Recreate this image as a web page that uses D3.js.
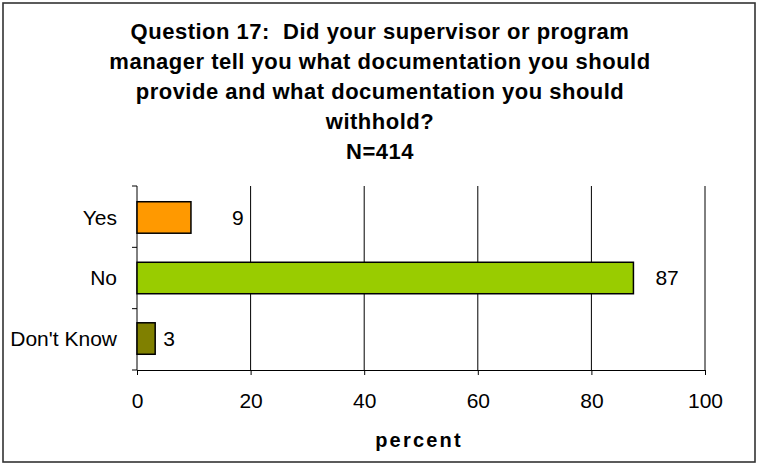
<!DOCTYPE html>
<html><head><meta charset="utf-8">
<script src="https://cdn.jsdelivr.net/npm/d3@7"></script>
<style>body{margin:0;background:#fff;}svg{display:block;}text{font-family:"Liberation Sans",Arial,sans-serif;white-space:pre;}</style>
</head><body>
<svg id="c" width="759" height="470"></svg>
<script>
const categories = ["Yes", "No", "Don't Know"];
const values = [9.5, 87.4, 3.2];
const valueLabels = ["9", "87", "3"];
const colors = ["#FF9900", "#99CC00", "#808000"];
const labelGap = [41, 22, 8];
const xTicks = [0, 20, 40, 60, 80, 100];
const titleLines = ["Question 17:  Did your supervisor or program", "manager tell you what documentation you should", "provide and what documentation you should", "withhold?", "N=414"];
const xTitle = "percent";

const svg = d3.select("#c");
svg.append("rect").attr("x", 3).attr("y", 3).attr("width", 752).attr("height", 459)
  .attr("fill", "#fff").attr("stroke", "#333").attr("stroke-width", 1.6);

const L = 137, R = 705, T = 186, B = 370;
const x = d3.scaleLinear().domain([0, 100]).range([L, R]);
const y = d3.scaleBand().domain(categories).range([T, B]).paddingInner(0.48).paddingOuter(0.26);

// gridlines
svg.append("g").selectAll("line").data(xTicks.slice(1)).join("line")
  .attr("x1", d => x(d)).attr("x2", d => x(d)).attr("y1", T).attr("y2", B)
  .attr("stroke", "#000").attr("stroke-width", 1);

// x axis
const xa = svg.append("g").attr("transform", `translate(0,${B})`)
  .call(d3.axisBottom(x).tickValues(xTicks).tickSize(5).tickPadding(18));
xa.select(".domain").attr("stroke", "#000");
xa.selectAll(".tick line").attr("stroke", "#000");
xa.selectAll("text").attr("font-size", 21).attr("fill", "#000").style("font-family", "Liberation Sans, Arial, sans-serif");

// y axis line with ticks at band boundaries
svg.append("line").attr("x1", L).attr("x2", L).attr("y1", T).attr("y2", B).attr("stroke", "#000");
const step = (B - T) / categories.length;
svg.append("g").selectAll("line").data(d3.range(categories.length + 1)).join("line")
  .attr("x1", L - 5).attr("x2", L).attr("y1", i => T + i * step).attr("y2", i => T + i * step)
  .attr("stroke", "#000");

// category labels
svg.append("g").selectAll("text").data(categories).join("text")
  .attr("x", L - 20).attr("y", d => y(d) + y.bandwidth() / 2).attr("dy", "0.35em")
  .attr("text-anchor", "end").attr("font-size", 21).attr("fill", "#000").text(d => d);

// bars
svg.append("g").selectAll("rect").data(categories).join("rect")
  .attr("x", x(0)).attr("y", d => y(d)).attr("width", (d, i) => x(values[i]) - x(0))
  .attr("height", y.bandwidth()).attr("fill", (d, i) => colors[i])
  .attr("stroke", "#000").attr("stroke-width", 1.5);

// value labels
svg.append("g").selectAll("text").data(categories).join("text")
  .attr("x", (d, i) => x(values[i]) + labelGap[i]).attr("y", d => y(d) + y.bandwidth() / 2).attr("dy", "0.35em")
  .attr("font-size", 21).attr("fill", "#000").text((d, i) => valueLabels[i]);

// title
svg.append("g").selectAll("text").data(titleLines).join("text")
  .attr("x", 380).attr("y", (d, i) => 38.5 + i * 30).attr("text-anchor", "middle")
  .attr("font-size", 22).attr("font-weight", "bold").attr("letter-spacing", 0.5).attr("fill", "#000").text(d => d);

// axis title
svg.append("text").attr("x", 419).attr("y", 447).attr("text-anchor", "middle")
  .attr("font-size", 20).attr("font-weight", "bold").attr("letter-spacing", 2.2).attr("fill", "#000").text(xTitle);
</script>
</body></html>
